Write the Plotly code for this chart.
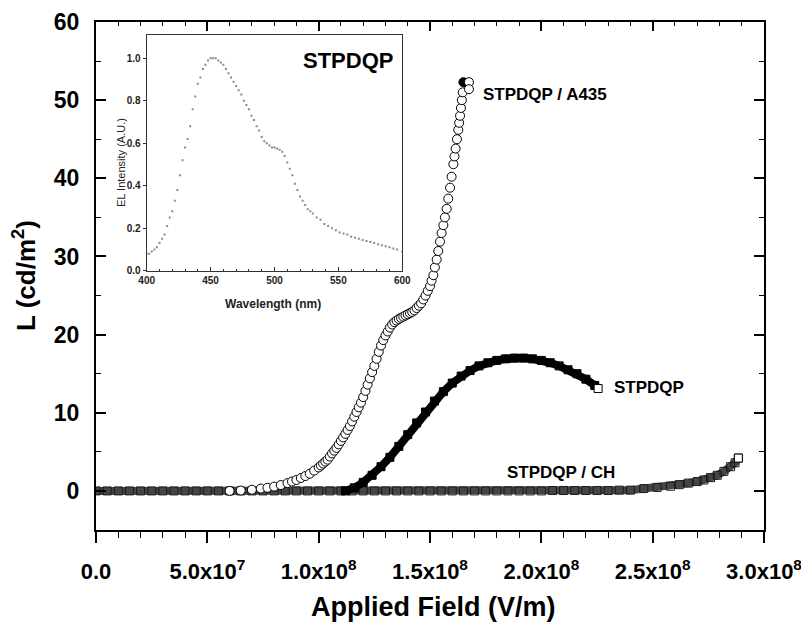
import plotly.graph_objects as go

FONT = "Liberation Sans, Arial, sans-serif"

# ---------------- data ----------------
# STPDQP / A435 (open circles), x in V/m
a435_x = [0.60e8, 0.65e8, 0.70e8, 0.74e8, 0.77e8, 0.80e8, 0.83e8, 0.86e8, 0.88e8, 0.90e8,
          0.92e8, 0.94e8, 0.96e8, 0.98e8, 1.00e8, 1.01e8, 1.02e8, 1.03e8, 1.04e8, 1.05e8,
          1.06e8, 1.07e8, 1.08e8, 1.09e8, 1.10e8, 1.11e8, 1.12e8, 1.13e8, 1.14e8, 1.15e8,
          1.16e8, 1.17e8, 1.18e8, 1.19e8, 1.20e8, 1.21e8, 1.22e8, 1.23e8, 1.24e8, 1.25e8,
          1.26e8, 1.27e8, 1.28e8, 1.29e8, 1.30e8, 1.31e8, 1.32e8, 1.33e8, 1.34e8, 1.35e8,
          1.36e8, 1.37e8, 1.38e8, 1.39e8, 1.40e8, 1.41e8, 1.42e8, 1.43e8, 1.44e8, 1.45e8,
          1.46e8, 1.47e8, 1.48e8, 1.49e8, 1.50e8, 1.507e8, 1.515e8, 1.522e8, 1.53e8, 1.537e8,
          1.545e8, 1.552e8, 1.56e8, 1.567e8, 1.575e8, 1.582e8, 1.59e8, 1.597e8, 1.605e8, 1.61e8,
          1.615e8, 1.621e8, 1.627e8, 1.631e8, 1.635e8, 1.639e8, 1.643e8, 1.647e8, 1.65e8, 1.675e8,
          1.675e8]
a435_y = [0.0, 0.05, 0.15, 0.3, 0.4, 0.55, 0.75, 1.0, 1.2, 1.4,
          1.65, 1.9, 2.2, 2.6, 3.0, 3.25, 3.5, 3.75, 4.0, 4.4,
          4.8, 5.15, 5.5, 5.95, 6.4, 6.85, 7.3, 7.8, 8.3, 8.9,
          9.5, 10.1, 10.7, 11.3, 12.0, 12.8, 13.6, 14.4, 15.2, 16.0,
          16.9, 17.8, 18.6, 19.3, 19.9, 20.4, 20.9, 21.3, 21.6, 21.8,
          22.0, 22.15, 22.3, 22.45, 22.6, 22.75, 22.9, 23.1, 23.4, 23.7,
          24.0, 24.5, 25.0, 25.6, 26.2, 26.9, 27.6, 28.6, 29.6, 30.7,
          31.9, 33.0, 34.0, 35.0, 36.1, 37.4, 38.8, 40.2, 41.8, 42.8,
          43.8, 45.0, 46.2, 47.1, 48.0, 49.0, 50.0, 51.0, 52.3, 52.3,
          51.4]

# STPDQP (filled squares, dense)
st_x = [1.12e8, 1.16e8, 1.20e8, 1.24e8, 1.28e8, 1.32e8, 1.36e8, 1.40e8, 1.44e8, 1.48e8,
        1.52e8, 1.56e8, 1.60e8, 1.64e8, 1.68e8, 1.72e8, 1.76e8, 1.80e8, 1.84e8, 1.88e8,
        1.92e8, 1.96e8, 2.00e8, 2.04e8, 2.08e8, 2.12e8, 2.16e8, 2.20e8, 2.24e8, 2.255e8]
st_y = [0.0, 0.4, 1.1, 2.0, 3.1, 4.3, 5.7, 7.2, 8.7, 10.1,
        11.5, 12.7, 13.8, 14.7, 15.4, 16.0, 16.4, 16.7, 16.9, 17.0,
        17.0, 16.9, 16.7, 16.4, 16.0, 15.5, 15.0, 14.3, 13.5, 13.1]

# STPDQP / CH (squares)
ch_x = [0.0, 0.05e8, 0.10e8, 0.15e8, 0.20e8, 0.25e8, 0.30e8, 0.35e8, 0.40e8, 0.45e8,
        0.50e8, 0.55e8, 0.60e8, 0.65e8, 0.70e8, 0.75e8, 0.80e8, 0.85e8, 0.90e8, 0.95e8,
        1.00e8, 1.05e8, 1.10e8, 1.15e8, 1.20e8, 1.25e8, 1.30e8, 1.35e8, 1.40e8, 1.45e8,
        1.50e8, 1.55e8, 1.60e8, 1.65e8, 1.70e8, 1.75e8, 1.80e8, 1.85e8, 1.90e8, 1.95e8,
        2.00e8, 2.05e8, 2.10e8, 2.15e8, 2.20e8, 2.25e8, 2.30e8, 2.35e8, 2.40e8, 2.46e8,
        2.52e8, 2.58e8, 2.62e8, 2.66e8, 2.70e8, 2.73e8, 2.76e8, 2.79e8, 2.82e8, 2.85e8,
        2.87e8, 2.885e8]
ch_y = [0.0, 0.0, 0.0, 0.0, 0.0, 0.0, 0.0, 0.0, 0.0, 0.0,
        0.0, 0.0, 0.0, 0.0, 0.0, 0.0, 0.0, 0.0, 0.0, 0.0,
        0.0, 0.0, 0.0, 0.0, 0.0, 0.0, 0.0, 0.0, 0.0, 0.0,
        0.0, 0.0, 0.0, 0.0, 0.0, 0.0, 0.0, 0.0, 0.0, 0.0,
        0.0, 0.05, 0.05, 0.05, 0.05, 0.05, 0.05, 0.1, 0.1, 0.3,
        0.45, 0.6, 0.8, 1.0, 1.2, 1.4, 1.7, 2.0, 2.5, 3.1,
        3.6, 4.2]

# Inset EL spectrum
wl = [400, 402, 404, 406, 408, 410, 412, 414, 416, 418, 420, 422, 424, 426, 428, 430,
      432, 434, 436, 438, 440, 442, 444, 446, 448, 450, 452, 454, 456, 458, 460, 462,
      464, 466, 468, 470, 472, 474, 476, 478, 480, 482, 484, 486, 488, 490, 492, 494,
      496, 498, 500, 502, 504, 506, 508, 510, 512, 514, 516, 518, 520, 522, 524, 526,
      528, 530, 533, 536, 539, 542, 545, 548, 551, 554, 557, 560, 563, 566, 569, 572,
      575, 578, 581, 584, 587, 590, 593, 596, 600]
el = [0.08, 0.08, 0.09, 0.10, 0.11, 0.13, 0.15, 0.17, 0.21, 0.25, 0.28, 0.33, 0.38, 0.45, 0.52, 0.58,
      0.62, 0.68, 0.76, 0.82, 0.88, 0.91, 0.95, 0.97, 0.99, 1.00, 1.00, 1.00, 0.99, 0.98, 0.97, 0.95,
      0.93, 0.91, 0.89, 0.87, 0.85, 0.83, 0.80, 0.78, 0.76, 0.73, 0.71, 0.68, 0.66, 0.63, 0.61, 0.60,
      0.59, 0.58, 0.58, 0.575, 0.57, 0.56, 0.54, 0.51, 0.48, 0.45, 0.41, 0.38, 0.35, 0.33, 0.31, 0.29,
      0.28, 0.27, 0.25, 0.24, 0.22, 0.21, 0.20, 0.19, 0.18, 0.175, 0.17, 0.16, 0.155, 0.15, 0.145, 0.14,
      0.135, 0.13, 0.125, 0.12, 0.115, 0.11, 0.105, 0.10, 0.09]

x_tickvals = [0, 0.5e8, 1.0e8, 1.5e8, 2.0e8, 2.5e8, 3.0e8]
x_ticktext = ["0.0", "5.0x10<sup>7</sup>", "1.0x10<sup>8</sup>", "1.5x10<sup>8</sup>",
              "2.0x10<sup>8</sup>", "2.5x10<sup>8</sup>", "3.0x10<sup>8</sup>"]
y_tickvals = [0, 10, 20, 30, 40, 50, 60]
wl_tickvals = [400, 450, 500, 550, 600]
el_tickvals = [0.0, 0.2, 0.4, 0.6, 0.8, 1.0]

fig = go.Figure()

# CH series: hatched-looking dark band of squares
fig.add_trace(go.Scatter(
    x=ch_x, y=ch_y, mode="lines+markers",
    line=dict(color="#454545", width=8),
    marker=dict(symbol="square-open", size=8, color="#1a1a1a", line=dict(width=1)),
    showlegend=False, hoverinfo="skip"))
# last CH square (open, white)
fig.add_trace(go.Scatter(
    x=ch_x[-1:], y=ch_y[-1:], mode="markers",
    marker=dict(symbol="square", size=8, color="white", line=dict(width=1, color="black")),
    showlegend=False, hoverinfo="skip"))

# STPDQP series: thick black band of filled squares
st_colors = ["black"] * (len(st_x) - 1) + ["white"]
fig.add_trace(go.Scatter(
    x=st_x, y=st_y, mode="lines+markers",
    line=dict(color="black", width=8),
    marker=dict(symbol="square", size=8, color=st_colors, line=dict(width=1, color="black")),
    showlegend=False, hoverinfo="skip"))

# A435 series: open circles
a_colors = ["white"] * len(a435_x)
a_colors[88] = "black"
fig.add_trace(go.Scatter(
    x=a435_x, y=a435_y, mode="markers",
    marker=dict(symbol="circle", size=9, color=a_colors, line=dict(width=1, color="black")),
    showlegend=False, hoverinfo="skip"))

# dummy trace for the top mirror axis
fig.add_trace(go.Scatter(x=[None], y=[None], xaxis="x2", yaxis="y", showlegend=False))

# inset spectrum
fig.add_trace(go.Scatter(
    x=wl, y=el, mode="markers", xaxis="x3", yaxis="y3",
    marker=dict(symbol="square", size=2, color="#8a8a8a"),
    showlegend=False, hoverinfo="skip"))

# the page body adds an 8px offset, so the figure is 8px smaller and margins shifted
fig.update_layout(
    width=801, height=619,
    margin=dict(l=88, r=45, t=14, b=97, autoexpand=False),
    paper_bgcolor="white", plot_bgcolor="white",
    font=dict(family=FONT, color="black"),
    xaxis=dict(
        range=[0, 3.0e8], showgrid=False, zeroline=False, automargin=False,
        showline=True, linewidth=2, linecolor="black", mirror=True,
        ticks="outside", ticklen=11, tickwidth=1.5, tickcolor="black",
        tickvals=x_tickvals, ticktext=x_ticktext,
        tickfont=dict(size=22, weight="bold", family=FONT),
        ticklabelstandoff=10,
        minor=dict(dtick=1e7, tick0=0, ticks="outside", ticklen=6, tickwidth=1.2,
                   tickcolor="black", showgrid=False),
    ),
    xaxis2=dict(
        overlaying="x", matches="x", side="top", anchor="y", automargin=False,
        showgrid=False, zeroline=False, showline=False, showticklabels=False,
        ticks="inside", ticklen=9, tickwidth=1.5, tickcolor="black",
        tickvals=x_tickvals,
        minor=dict(dtick=1e7, tick0=0, ticks="inside", ticklen=4, tickwidth=1.2,
                   tickcolor="black", showgrid=False),
    ),
    yaxis=dict(
        range=[-5, 60], showgrid=False, zeroline=False, automargin=False,
        showline=True, linewidth=2, linecolor="black", mirror="ticks",
        ticks="inside", ticklen=10, tickwidth=1.5, tickcolor="black",
        tickvals=y_tickvals,
        tickfont=dict(size=23, weight="bold", family=FONT),
        ticklabelstandoff=10,
        minor=dict(dtick=5, tick0=0, ticks="inside", ticklen=5, tickwidth=1.2,
                   tickcolor="black", showgrid=False),
    ),
    xaxis3=dict(
        domain=[0.0759, 0.4585], anchor="y3", range=[400, 600], automargin=False,
        showgrid=False, zeroline=False,
        showline=True, linewidth=1, linecolor="#333", mirror=True,
        ticks="inside", ticklen=4, tickwidth=1, tickcolor="#333",
        tickvals=wl_tickvals,
        tickfont=dict(size=10, weight="bold", family=FONT, color="#222"),
        minor=dict(dtick=10, tick0=400, ticks="inside", ticklen=2, tickwidth=1,
                   tickcolor="#333", showgrid=False),
    ),
    yaxis3=dict(
        domain=[0.5104, 0.9744], anchor="x3", range=[0, 1.11], automargin=False,
        showgrid=False, zeroline=False,
        showline=True, linewidth=1, linecolor="#333", mirror=True,
        ticks="outside", ticklen=3, tickwidth=1, tickcolor="#333",
        tickvals=el_tickvals, tickformat=".1f",
        tickfont=dict(size=10, weight="bold", family=FONT, color="#222"),
    ),
    annotations=[
        dict(text="Applied Field (V/m)", xref="paper", yref="paper", x=0.5045, y=-0.1516,
             showarrow=False, xanchor="center", yanchor="middle",
             font=dict(size=27, weight="bold", family=FONT)),
        dict(text="L (cd/m<sup>2</sup>)", xref="paper", yref="paper", x=-0.1063, y=0.502,
             showarrow=False, xanchor="center", yanchor="middle", textangle=-90,
             font=dict(size=26, weight="bold", family=FONT)),
        dict(text="STPDQP / A435", xref="x", yref="y", x=1.729e8, y=50.7,
             showarrow=False, xanchor="left", yanchor="middle",
             font=dict(size=17, weight="bold", family=FONT)),
        dict(text="STPDQP", xref="x", yref="y", x=2.317e8, y=13.2,
             showarrow=False, xanchor="left", yanchor="middle",
             font=dict(size=17, weight="bold", family=FONT)),
        dict(text="STPDQP / CH", xref="x", yref="y", x=1.837e8, y=2.3,
             showarrow=False, xanchor="left", yanchor="middle",
             font=dict(size=17, weight="bold", family=FONT)),
        dict(text="STPDQP", xref="x3", yref="y3", x=557.5, y=0.99,
             showarrow=False, xanchor="center", yanchor="middle",
             font=dict(size=22, weight="bold", family=FONT)),
        dict(text="EL Intensity (A.U.)", xref="paper", yref="paper", x=0.0374, y=0.7244,
             showarrow=False, xanchor="center", yanchor="middle", textangle=-90,
             font=dict(size=11, family=FONT, color="#222")),
        dict(text="Wavelength (nm)", xref="paper", yref="paper", x=0.265, y=0.4449,
             showarrow=False, xanchor="center", yanchor="middle",
             font=dict(size=12, weight="bold", family=FONT, color="#222")),
    ],
)

fig.write_html("out.html")
